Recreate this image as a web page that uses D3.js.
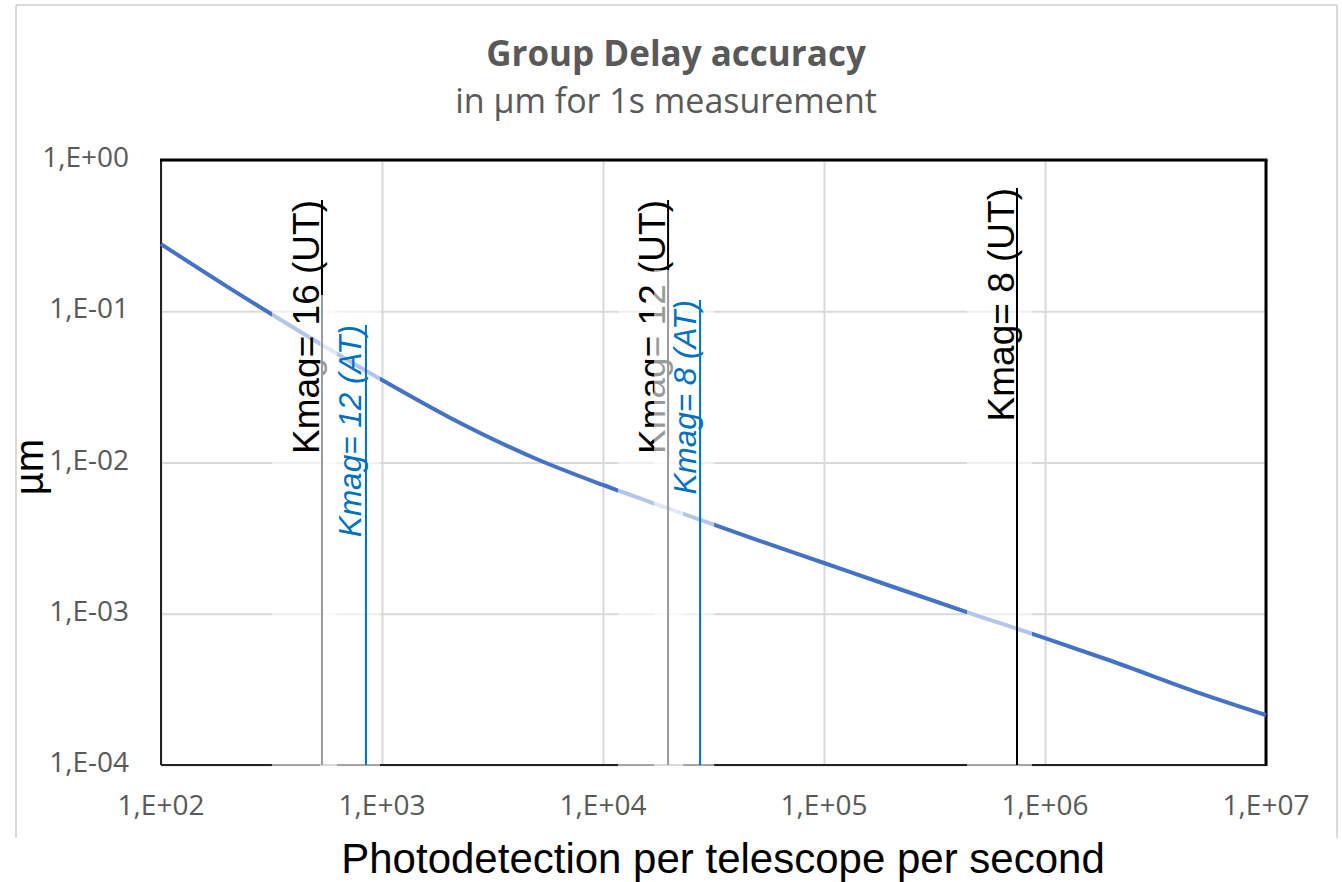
<!DOCTYPE html>
<html>
<head>
<meta charset="utf-8">
<script src="https://cdn.jsdelivr.net/npm/d3@7"></script>
<style>
  body { margin: 0; background: #fff; }
</style>
</head>
<body>
<div id="chart"></div>
<script>
// Photodetections per telescope per second (x) and group delay accuracy in µm (y)
const photoRates = [1e2, 2e2, 5e2, 1e3, 2e3, 5e3, 1e4, 2e4, 5e4, 1e5, 2e5, 5e5, 1e6, 2e6, 5e6, 1e7];
const delayAccuracy = [0.278, 0.145, 0.0636, 0.0351, 0.0200, 0.01055, 0.0071, 0.00493, 0.00307,
                       0.002165, 0.001526, 0.000966, 0.000691, 0.000487, 0.000299, 0.000214];

const xTickValues = [1e2, 1e3, 1e4, 1e5, 1e6, 1e7];
const xTickLabels = ["1,E+02", "1,E+03", "1,E+04", "1,E+05", "1,E+06", "1,E+07"];
const yTickValues = [1e-4, 1e-3, 1e-2, 1e-1, 1e0];
const yTickLabels = ["1,E-04", "1,E-03", "1,E-02", "1,E-01", "1,E+00"];

// Kmag markers (vertical lines)
const markerLabels = ["Kmag= 16 (UT)", "Kmag= 12 (AT)", "Kmag= 12 (UT)", "Kmag= 8 (AT)", "Kmag= 8 (UT)"];
const markerRates = [535, 846, 19700, 27500, 747000];
const markerScope = ["UT", "AT", "UT", "AT", "UT"];

// layout only: top of each marker label, in px
const labelTopPx = [200, 325, 200, 300, 188];

const W = 1342, H = 882;
const margin = { left: 161, top: 160, right: 76, bottom: 117 };
const plotW = W - margin.left - margin.right;
const plotH = H - margin.top - margin.bottom;

const svg = d3.select("#chart").append("svg")
    .attr("width", W).attr("height", H)
    .style("font-family", "'Open Sans', sans-serif");

// chart area outline
const chartBox = svg.append("g").attr("stroke", "#d9d9d9").attr("stroke-width", 2);
chartBox.append("line").attr("x1", 16).attr("y1", 5).attr("x2", 16).attr("y2", 838);
chartBox.append("line").attr("x1", 1337).attr("y1", 5).attr("x2", 1337).attr("y2", 838);
chartBox.append("line").attr("x1", 16).attr("y1", 5).attr("x2", 1337).attr("y2", 5);

const x = d3.scaleLog().domain([1e2, 1e7]).range([margin.left, margin.left + plotW]);
const y = d3.scaleLog().domain([1e-4, 1e0]).range([margin.top + plotH, margin.top]);

// gridlines
svg.append("g")
    .attr("transform", `translate(0,${margin.top + plotH})`)
    .call(d3.axisBottom(x).tickValues(xTickValues).tickSize(-plotH).tickFormat(""))
    .call(g => g.select(".domain").remove())
    .call(g => g.selectAll(".tick line").attr("stroke", "#d9d9d9").attr("stroke-width", 2));
svg.append("g")
    .attr("transform", `translate(${margin.left},0)`)
    .call(d3.axisLeft(y).tickValues(yTickValues).tickSize(-plotW).tickFormat(""))
    .call(g => g.select(".domain").remove())
    .call(g => g.selectAll(".tick line").attr("stroke", "#d9d9d9").attr("stroke-width", 2));

// plot borders
const x0 = margin.left, x1 = margin.left + plotW, y0 = margin.top, y1 = margin.top + plotH;
svg.append("line").attr("x1", x0).attr("y1", y0).attr("x2", x0).attr("y2", y1)
    .attr("stroke", "#222").attr("stroke-width", 2);
svg.append("line").attr("x1", x0).attr("y1", y1).attr("x2", x1).attr("y2", y1)
    .attr("stroke", "#222").attr("stroke-width", 2);
svg.append("line").attr("x1", x0 - 1).attr("y1", y0).attr("x2", x1 + 1.5).attr("y2", y0)
    .attr("stroke", "#000").attr("stroke-width", 3);
svg.append("line").attr("x1", x1).attr("y1", y0).attr("x2", x1).attr("y2", y1 + 1)
    .attr("stroke", "#000").attr("stroke-width", 3);

// accuracy curve
const curve = d3.line()
    .x((d, i) => x(photoRates[i]))
    .y(d => y(d))
    .curve(d3.curveMonotoneX);
svg.append("path")
    .attr("d", curve(delayAccuracy))
    .attr("fill", "none")
    .attr("stroke", "#4472C4")
    .attr("stroke-width", 4);

// markers: semi-transparent text box, vertical line, rotated label
markerRates.forEach((rate, i) => {
    const isAT = markerScope[i] === "AT";
    const mx = x(rate);
    const top = labelTopPx[i];
    const g = svg.append("g");

    g.append("rect")
        .attr("x", mx - (isAT ? 46 : 50))
        .attr("y", top - (isAT ? 30 : 14))
        .attr("width", isAT ? 60 : 65)
        .attr("height", y1 + 3 - (top - (isAT ? 30 : 14)))
        .attr("fill", "#fff")
        .attr("fill-opacity", 0.6);

    g.append("line")
        .attr("x1", mx).attr("x2", mx)
        .attr("y1", top).attr("y2", y1)
        .attr("stroke", isAT ? "#0070C0" : "#000")
        .attr("stroke-width", 2);

    g.append("text")
        .attr("transform", `translate(${mx - (isAT ? 4.5 : 3)},${top}) rotate(-90)`)
        .attr("text-anchor", "end")
        .style("font-family", "'Liberation Sans', Arial, sans-serif")
        .style("font-size", isAT ? "31.5px" : "37px")
        .style("font-style", isAT ? "italic" : "normal")
        .attr("fill", isAT ? "#0070C0" : "#000")
        .text(markerLabels[i]);
});

// tick labels
svg.append("g").selectAll("text")
    .data(xTickValues)
    .join("text")
    .attr("x", d => x(d))
    .attr("y", 815)
    .attr("text-anchor", "middle")
    .attr("fill", "#595959")
    .style("font-size", "28px")
    .text((d, i) => xTickLabels[i]);

svg.append("g").selectAll("text")
    .data(yTickValues)
    .join("text")
    .attr("x", margin.left - 32)
    .attr("y", d => y(d))
    .attr("dy", "0.25em")
    .attr("text-anchor", "end")
    .attr("fill", "#595959")
    .style("font-size", "28px")
    .text((d, i) => yTickLabels[i]);

// titles
svg.append("text")
    .attr("x", 676).attr("y", 66)
    .attr("text-anchor", "middle")
    .attr("fill", "#595959")
    .style("font-size", "35px")
    .style("font-weight", "bold")
    .text("Group Delay accuracy");
svg.append("text")
    .attr("x", 666).attr("y", 113)
    .attr("text-anchor", "middle")
    .attr("fill", "#595959")
    .style("font-size", "34px")
    .text("in µm for 1s measurement");

svg.append("text")
    .attr("transform", `translate(43,467) rotate(-90)`)
    .attr("text-anchor", "middle")
    .attr("fill", "#000")
    .style("font-family", "'Liberation Sans', Arial, sans-serif")
    .style("font-size", "40px")
    .text("µm");

svg.append("text")
    .attr("x", 723).attr("y", 873)
    .attr("text-anchor", "middle")
    .attr("fill", "#000")
    .style("font-family", "'Liberation Sans', Arial, sans-serif")
    .style("font-size", "42px")
    .text("Photodetection per telescope per second");
</script>
</body>
</html>
